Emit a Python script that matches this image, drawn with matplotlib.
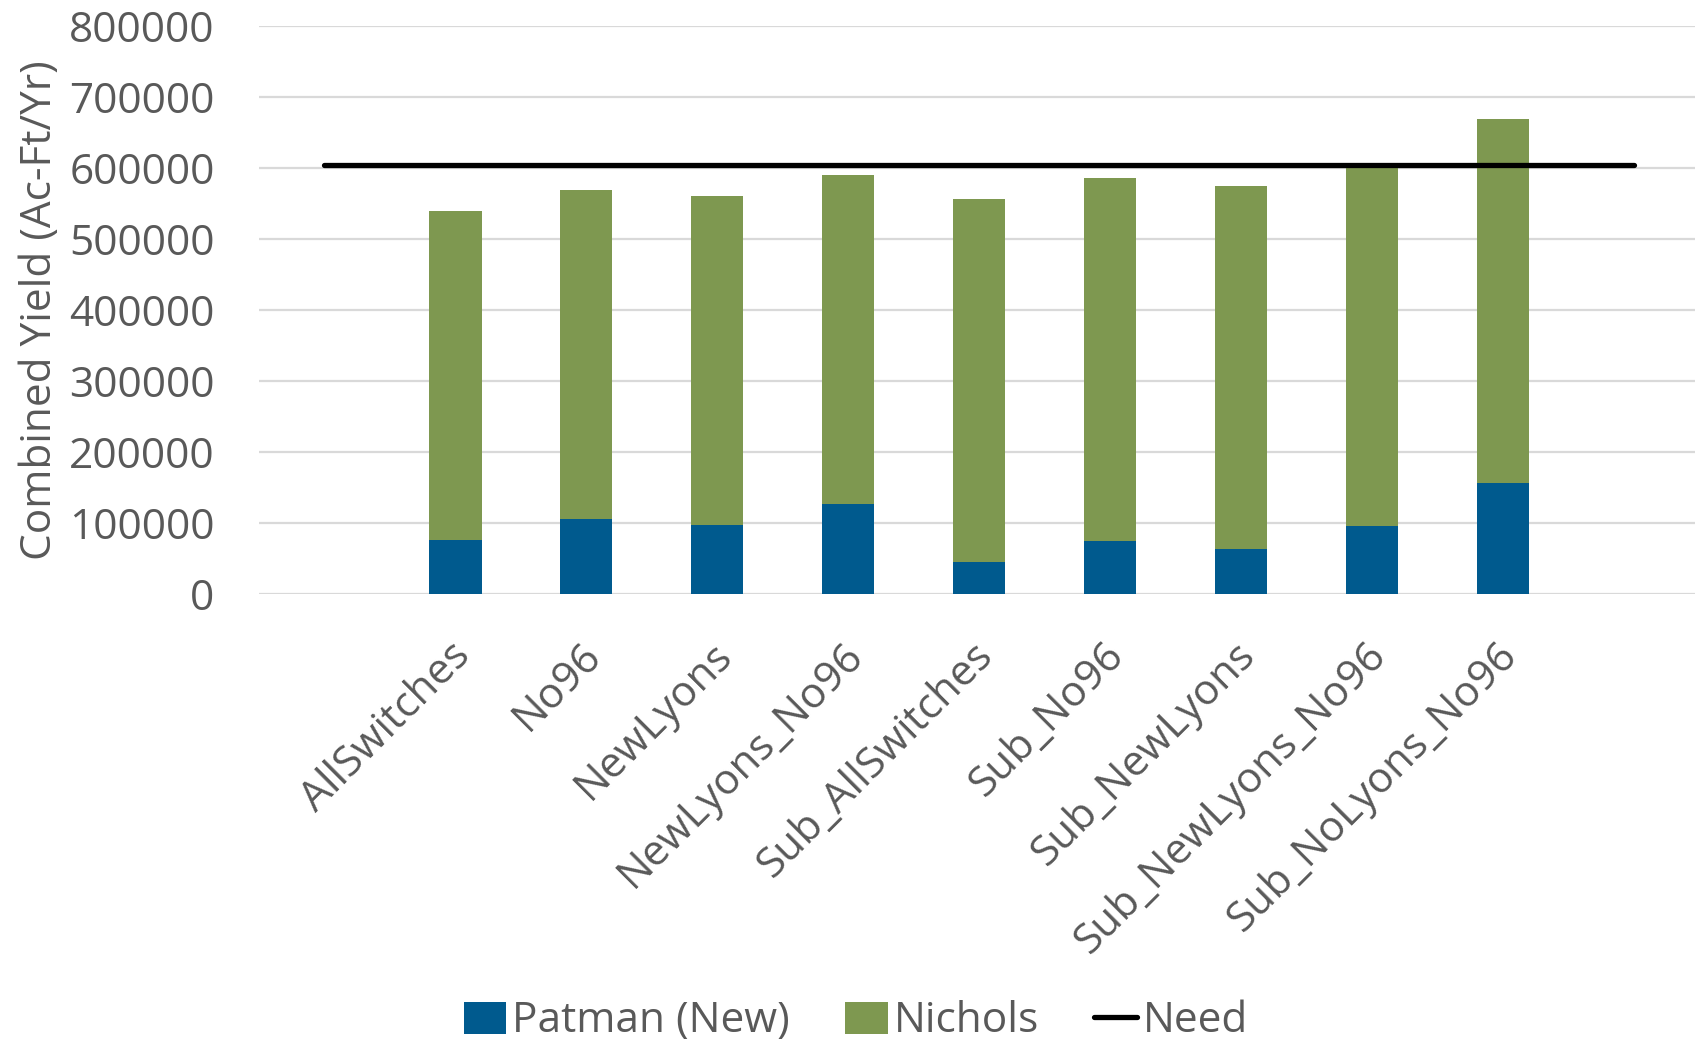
import matplotlib
matplotlib.use("Agg")
import matplotlib.pyplot as plt
import matplotlib.transforms as mtrans
import numpy as np

# Scenario names (blank slots at both ends carry the Need line only)
Scenarios = ["", "AllSwitches", "No96", "NewLyons", "NewLyons_No96", "Sub_AllSwitches",
             "Sub_No96", "Sub_NewLyons", "Sub_NewLyons_No96", "Sub_NoLyons_No96", ""]

# Patman (New) yield, Ac-Ft/Yr
Patman = [0, 75000, 104500, 96000, 125800, 44700, 74500, 63000, 95500, 155800, 0]

# Combined yield (Patman + Nichols), Ac-Ft/Yr
Total = [0, 538800, 569000, 560600, 590200, 555500, 586200, 574500, 602000, 668300, 0]

# Need, Ac-Ft/Yr
Need = [604000, 604000, 604000, 604000, 604000, 604000, 604000, 604000, 604000, 604000, 604000]

Nichols = [t - p for t, p in zip(Total, Patman)]

# Colours
BlueCol = "#005A8E"
GreenCol = "#7E9850"
TextCol = "#595959"
GridCol = "#D9D9D9"

plt.rcParams["font.family"] = ["Open Sans", "DejaVu Sans"]
FontSize = 30.5

Fig = plt.figure(figsize=(16.95, 10.40), dpi=100)
Ax = Fig.add_axes([0.1528, 0.4293, 0.8496, 0.5457])

X = np.arange(len(Scenarios))
BarP = Ax.bar(X, Patman, width=0.40, color=BlueCol, label="Patman (New)", zorder=2)
BarN = Ax.bar(X, Nichols, width=0.40, bottom=Patman, color=GreenCol, label="Nichols", zorder=2)
LineNeed, = Ax.plot(X, Need, color="black", linewidth=3.8, solid_capstyle="round", label="Need", zorder=3)

Ax.set_xlim(-0.5, len(Scenarios) - 0.5)
Ax.set_ylim(0, 800000)
Ax.set_yticks(np.arange(0, 800001, 100000))
Ax.set_yticklabels(["%d" % v for v in np.arange(0, 800001, 100000)])
Ax.yaxis.grid(True, color=GridCol, linewidth=1.6, zorder=0)
Ax.set_axisbelow(True)
for s in Ax.spines.values():
    s.set_visible(False)
Ax.tick_params(axis="both", length=0, labelsize=FontSize, labelcolor=TextCol)
Ax.tick_params(axis="y", pad=32)

Ax.set_xticks(X)
Ax.set_xticklabels(Scenarios, rotation=45, ha="right", va="center", rotation_mode="anchor")
Ax.tick_params(axis="x", pad=40)

# Nudge the rotated category labels a little to the right
Shift = mtrans.ScaledTranslation(6 / 72, 0, Fig.dpi_scale_trans)
for Lbl in Ax.get_xticklabels():
    Lbl.set_transform(Lbl.get_transform() + Shift)

Ax.set_ylabel("Combined Yield (Ac-Ft/Yr)", fontsize=FontSize, color=TextCol, labelpad=6)

Leg = Fig.legend([BarP, BarN, LineNeed], ["Patman (New)", "Nichols", "Need"],
                 loc="lower center", bbox_to_anchor=(0.505, -0.039), ncol=3, frameon=False,
                 fontsize=FontSize, handlelength=1.0, handleheight=0.8, handletextpad=0.15,
                 columnspacing=1.3)
for T in Leg.get_texts():
    T.set_color(TextCol)

Fig.savefig("out.png", dpi=100)
